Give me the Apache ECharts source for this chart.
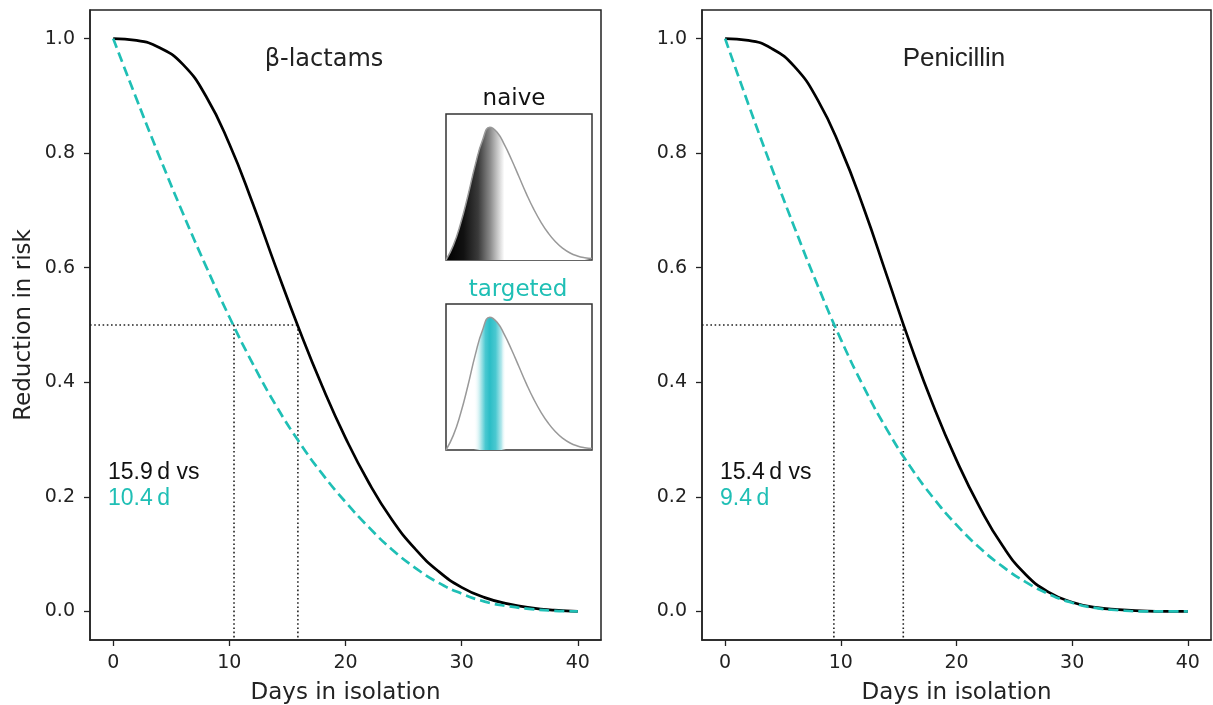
<!DOCTYPE html>
<html>
<head>
<meta charset="utf-8">
<script src="https://cdn.jsdelivr.net/npm/echarts@6/dist/echarts.min.js"></script>
<style>
html,body{margin:0;padding:0;background:#fff;}
#chart{width:1213px;height:705px;}
</style>
</head>
<body>
<div id="chart"></div>
<script>
// ---- data ----
const days = [0,2,4,6,8,10,12,14,16,18,20,22,24,26,28,30,32,34,36,38,40];
const lactamNaive    = [1.000,0.997,0.984,0.955,0.899,0.816,0.713,0.601,0.493,0.393,0.303,0.225,0.160,0.109,0.070,0.042,0.024,0.013,0.006,0.002,0.000];
const lactamTargeted = [1.000,0.895,0.793,0.695,0.602,0.514,0.433,0.360,0.296,0.240,0.191,0.147,0.108,0.076,0.050,0.031,0.017,0.009,0.004,0.001,0.000];
const penNaive       = [1.000,0.997,0.983,0.951,0.893,0.808,0.703,0.585,0.467,0.359,0.264,0.182,0.114,0.064,0.033,0.016,0.007,0.003,0.001,0.000,0.000];
const penTargeted    = [1.000,0.886,0.776,0.670,0.569,0.475,0.391,0.317,0.253,0.198,0.151,0.111,0.078,0.051,0.030,0.015,0.006,0.002,0.000,0.000,0.000];
const lactamMedians = [15.9, 10.4];
const penMedians    = [15.4, 9.4];
const xTicks = [0,10,20,30,40];
const yTicks = [0,0.2,0.4,0.6,0.8,1.0];
const insetX = [0,0.05,0.10,0.15,0.20,0.25,0.30,0.35,0.40,0.45,0.50,0.55,0.60,0.65,0.70,0.75,0.80,0.85,0.90,0.95,1.00];
const insetY = [0.00,0.10,0.25,0.44,0.65,0.82,0.91,0.875,0.79,0.685,0.57,0.455,0.35,0.26,0.185,0.125,0.08,0.048,0.028,0.016,0.01];
const panelTitles = ['\u03b2-lactams', 'Penicillin'];
const xMin = -2, xMax = 42, yMin = -0.05, yMax = 1.05;

const TEAL = '#1fbfb5';
const tickFont = '"DejaVu Sans", sans-serif';
const sansF = '"Liberation Sans", Arial, sans-serif';

function pairs(xs, ys){ return xs.map((x,i)=>[x, ys[i]]); }

function mainX(grid){
  return {
    type:'value', gridIndex:grid, min:xMin, max:xMax,
    name: 'Days in isolation', nameLocation:'middle', nameGap:42,
    nameTextStyle:{fontFamily:tickFont, fontSize:23, color:'#222'},
    axisLine:{show:true, onZero:false, lineStyle:{color:'#222', width:1.5}},
    axisTick:{show:true, length:6, lineStyle:{color:'#222', width:1.3}, customValues:xTicks},
    axisLabel:{show:true, margin:14, fontFamily:tickFont, fontSize:19, color:'#222', customValues:xTicks},
    splitLine:{show:false}
  };
}
function mainY(grid, withName){
  return {
    type:'value', gridIndex:grid, min:yMin, max:yMax,
    name: withName ? 'Reduction in risk' : '', nameLocation:'middle', nameGap:54,
    nameTextStyle:{fontFamily:tickFont, fontSize:23, color:'#222'},
    axisLine:{show:true, onZero:false, lineStyle:{color:'#222', width:1.5}},
    axisTick:{show:true, length:6, lineStyle:{color:'#222', width:1.3}, customValues:yTicks},
    axisLabel:{show:true, margin:15, fontFamily:tickFont, fontSize:19, color:'#222', customValues:yTicks,
      formatter:(v)=>Number(v).toFixed(1)},
    splitLine:{show:false}
  };
}
function insetAxis(grid){
  return {type:'value', gridIndex:grid, min:0, max:1, show:false};
}

function curve(idx, data, color, dashed){
  return {
    type:'line', xAxisIndex:idx, yAxisIndex:idx, data:data, showSymbol:false, symbol:'none',
    smooth:0.5, silent:true, animation:false,
    lineStyle:{color:color, width:2.7, type: dashed ? [10,5] : 'solid', cap:'butt'},
    z: dashed ? 4 : 3
  };
}
function dotted(idx, data){
  return {
    type:'line', xAxisIndex:idx, yAxisIndex:idx, data:data, showSymbol:false, symbol:'none',
    silent:true, animation:false,
    lineStyle:{color:'#222', width:1.6, type:[1.6,2.6]}, z:2
  };
}
function medianLines(idx, medians){
  const naive = medians[0], targ = medians[1];
  return [
    dotted(idx, [[xMin,0.5],[naive,0.5]]),
    dotted(idx, [[naive,0.5],[naive,yMin]]),
    dotted(idx, [[targ,0.5],[targ,yMin]])
  ];
}

const naiveGradient = new echarts.graphic.LinearGradient(0,0,1,0,[
  {offset:0, color:'#000'},{offset:0.12, color:'#111'},{offset:0.22, color:'#3a3a3a'},
  {offset:0.30, color:'#888'},{offset:0.36, color:'#d0d0d0'},{offset:0.40, color:'#fff'},{offset:1, color:'#fff'}
]);
const targetGradient = new echarts.graphic.LinearGradient(0,0,1,0,[
  {offset:0, color:'rgba(255,255,255,0)'},{offset:0.19, color:'rgba(255,255,255,0)'},
  {offset:0.23, color:'#c8eef0'},{offset:0.27, color:'#4ac8d0'},{offset:0.30, color:'#2bbdc6'},
  {offset:0.34, color:'#4ac8d0'},{offset:0.38, color:'#b5e8ec'},{offset:0.41, color:'rgba(255,255,255,0)'},
  {offset:1, color:'rgba(255,255,255,0)'}
]);
function insetSeries(idx, grad){
  return {
    type:'line', xAxisIndex:idx, yAxisIndex:idx, data:pairs(insetX, insetY), showSymbol:false, symbol:'none',
    smooth:0.5, silent:true, animation:false,
    lineStyle:{color:'#999', width:1.5},
    areaStyle:{color:grad, opacity:1}, z:5
  };
}

function txt(text, x, y, size, color, family, align){
  return {
    type:'text', silent:true, z:100,
    style:{text:text, x:x, y:y, fill:color, font: size + 'px ' + family,
      align: align || 'center', verticalAlign:'middle',
      textAlign: align || 'center', textVerticalAlign:'middle'}
  };
}

const gridBase = {show:true, containLabel:false, outerBoundsMode:'none'};
const option = {
  backgroundColor:'#fff',
  animation:false,
  grid:[
    Object.assign({left:90, top:10, width:511, height:630, borderColor:'#222', borderWidth:1.5}, gridBase),
    Object.assign({left:702, top:10, width:509, height:630, borderColor:'#222', borderWidth:1.5}, gridBase),
    Object.assign({left:446, top:114, width:146, height:146, borderColor:'#333', borderWidth:1.5, backgroundColor:'#fff', z:4}, gridBase),
    Object.assign({left:446, top:304, width:146, height:146, borderColor:'#333', borderWidth:1.5, backgroundColor:'#fff', z:4}, gridBase)
  ],
  xAxis:[mainX(0), mainX(1), insetAxis(2), insetAxis(3)],
  yAxis:[mainY(0,true), mainY(1,false), insetAxis(2), insetAxis(3)],
  series:[
    ...medianLines(0, lactamMedians),
    curve(0, pairs(days, lactamNaive), '#000', false),
    curve(0, pairs(days, lactamTargeted), TEAL, true),
    ...medianLines(1, penMedians),
    curve(1, pairs(days, penNaive), '#000', false),
    curve(1, pairs(days, penTargeted), TEAL, true),
    insetSeries(2, naiveGradient),
    insetSeries(3, targetGradient)
  ],
  graphic:[
    txt(panelTitles[0], 324, 60, 24, '#222', tickFont),
    txt(panelTitles[1], 954, 59, 26, '#222', sansF),
    txt('naive', 514, 99, 23, '#111', tickFont),
    txt('targeted', 518, 290, 23, TEAL, tickFont),
    txt(lactamMedians[0].toFixed(1) + '\u2009d vs', 108, 473, 23, '#111', sansF, 'left'),
    txt(lactamMedians[1].toFixed(1) + '\u2009d', 108, 499, 23, TEAL, sansF, 'left'),
    txt(penMedians[0].toFixed(1) + '\u2009d vs', 720, 473, 23, '#111', sansF, 'left'),
    txt(penMedians[1].toFixed(1) + '\u2009d', 720, 499, 23, TEAL, sansF, 'left')
  ]
};

const chart = echarts.init(document.getElementById('chart'), null, {renderer:'canvas'});
chart.setOption(option);
</script>
</body>
</html>
